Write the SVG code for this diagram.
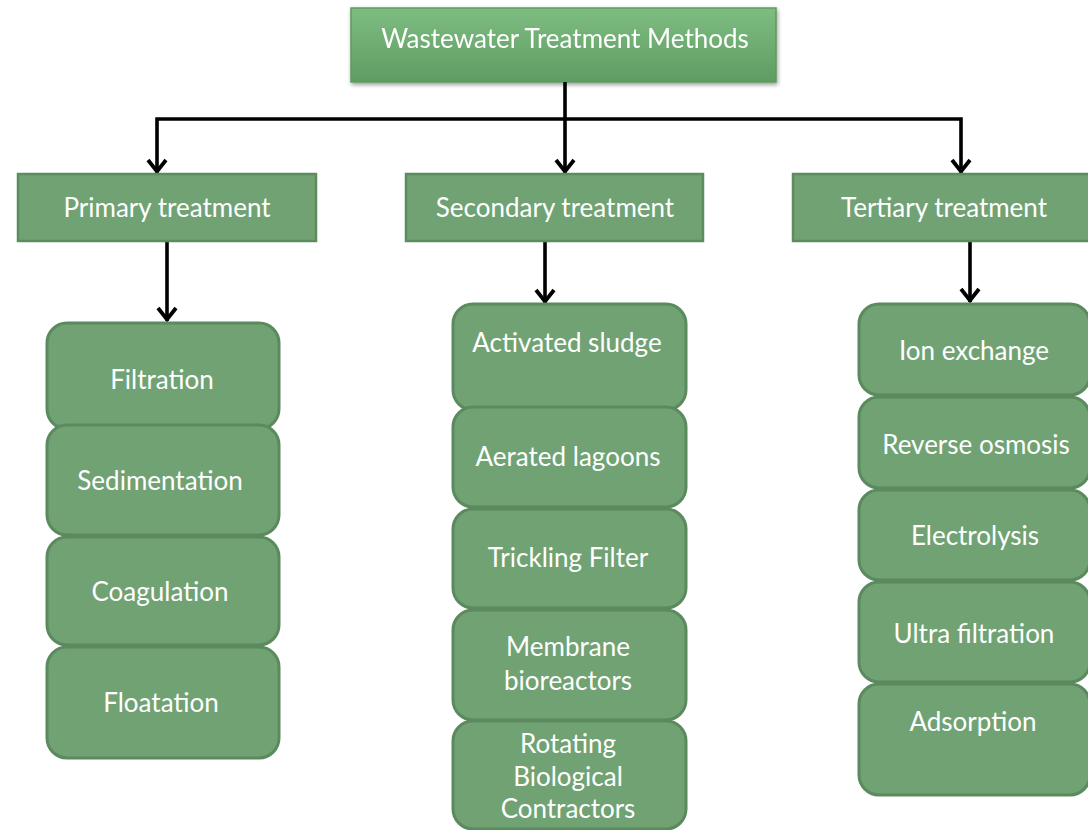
<svg xmlns="http://www.w3.org/2000/svg" width="1088" height="830" viewBox="0 0 1088 830">
  <defs>
    <linearGradient id="titleFill" x1="0" y1="0" x2="0" y2="1">
      <stop offset="0" stop-color="#7ebd81"/>
      <stop offset="1" stop-color="#5f9c63"/>
    </linearGradient>
    <filter id="shadow" x="-5%" y="-10%" width="110%" height="130%">
      <feGaussianBlur in="SourceAlpha" stdDeviation="2"/>
      <feOffset dx="1" dy="2" result="b"/>
      <feComponentTransfer><feFuncA type="linear" slope="0.4"/></feComponentTransfer>
      <feMerge><feMergeNode/><feMergeNode in="SourceGraphic"/></feMerge>
    </filter>
    <!-- open chevron arrowhead, drawn along the path direction (+x) -->
    <marker id="chev" viewBox="-16 -12 20 24" markerWidth="20" markerHeight="24" refX="0" refY="0" orient="auto-start-reverse" markerUnits="userSpaceOnUse">
      <path d="M-13,-9 L-1.5,0 L-13,9" fill="none" stroke="#000" stroke-width="3.8" stroke-linejoin="miter"/>
    </marker>
  </defs>
  <style>
    text { font-family: Lato, "Open Sans", "Liberation Sans", sans-serif; fill: #ffffff; text-anchor: middle; }
    .title { font-size: 26px; }
    .cat rect { fill: #70a274; stroke: #5b8d5f; stroke-width: 2.5; }
    .cat text { font-size: 26px; }
    .item rect { fill: #70a274; stroke: #5a8a5e; stroke-width: 3; }
    .item text { font-size: 26px; }
    .conn path { fill: none; stroke: #000; stroke-width: 3.6; }
  </style>

  <rect width="1088" height="830" fill="#ffffff"/>

  <!-- root -->
  <g id="root" filter="url(#shadow)">
    <rect x="351" y="8" width="425" height="74" fill="url(#titleFill)" stroke="#5d9a61" stroke-width="1.5"/>
    <text class="title" x="565" y="48">Wastewater Treatment Methods</text>
  </g>

  <!-- connectors -->
  <g id="connectors" class="conn">
    <path d="M565,82 V173" marker-end="url(#chev)"/>
    <path d="M157,173 V119 H961 V173" marker-start="url(#chev)" marker-end="url(#chev)"/>
    <path d="M167,241 V321" marker-end="url(#chev)"/>
    <path d="M545,241 V303" marker-end="url(#chev)"/>
    <path d="M970,241 V302" marker-end="url(#chev)"/>
  </g>

  <!-- treatment stages -->
  <g id="primary" class="cat">
    <rect x="18" y="174" width="298" height="67"/>
    <text x="167" y="217">Primary treatment</text>
  </g>
  <g id="secondary" class="cat">
    <rect x="406" y="174" width="297" height="67"/>
    <text x="555" y="217">Secondary treatment</text>
  </g>
  <g id="tertiary" class="cat">
    <rect x="793" y="174" width="297" height="67"/>
    <text x="944" y="217">Tertiary treatment</text>
  </g>

  <!-- primary methods -->
  <g id="filtration" class="item">
    <rect x="47" y="323" width="232" height="106" rx="20"/>
    <text x="162" y="389">Filtration</text>
  </g>
  <g id="sedimentation" class="item">
    <rect x="47" y="425" width="232" height="110" rx="20"/>
    <text x="160" y="490">Sedimentation</text>
  </g>
  <g id="coagulation" class="item">
    <rect x="47" y="537" width="232" height="108" rx="20"/>
    <text x="160" y="601">Coagulation</text>
  </g>
  <g id="floatation" class="item">
    <rect x="47" y="647" width="232" height="111" rx="20"/>
    <text x="161" y="712">Floatation</text>
  </g>

  <!-- secondary methods -->
  <g id="activated-sludge" class="item">
    <rect x="453" y="304" width="233" height="106" rx="20"/>
    <text x="567" y="352">Activated sludge</text>
  </g>
  <g id="aerated-lagoons" class="item">
    <rect x="453" y="407" width="233" height="100" rx="20"/>
    <text x="568" y="466">Aerated lagoons</text>
  </g>
  <g id="trickling-filter" class="item">
    <rect x="453" y="509" width="233" height="99" rx="20"/>
    <text x="568" y="567">Trickling Filter</text>
  </g>
  <g id="membrane-bioreactors" class="item">
    <rect x="453" y="610" width="233" height="110" rx="20"/>
    <text x="568" y="656">Membrane</text>
    <text x="568" y="690">bioreactors</text>
  </g>
  <g id="rotating-biological-contractors" class="item">
    <rect x="453" y="721" width="233" height="108" rx="20"/>
    <text x="568" y="753">Rotating</text>
    <text x="568" y="786">Biological</text>
    <text x="568" y="818">Contractors</text>
  </g>

  <!-- tertiary methods -->
  <g id="ion-exchange" class="item">
    <rect x="859" y="304" width="231" height="91" rx="20"/>
    <text x="974" y="360">Ion exchange</text>
  </g>
  <g id="reverse-osmosis" class="item">
    <rect x="859" y="397" width="231" height="91" rx="20"/>
    <text x="976" y="454">Reverse osmosis</text>
  </g>
  <g id="electrolysis" class="item">
    <rect x="859" y="490" width="231" height="90" rx="20"/>
    <text x="975" y="545">Electrolysis</text>
  </g>
  <g id="ultra-filtration" class="item">
    <rect x="859" y="582" width="231" height="100" rx="20"/>
    <text x="974" y="643">Ultra filtration</text>
  </g>
  <g id="adsorption" class="item">
    <rect x="859" y="684" width="231" height="111" rx="20"/>
    <text x="973" y="731">Adsorption</text>
  </g>
</svg>
